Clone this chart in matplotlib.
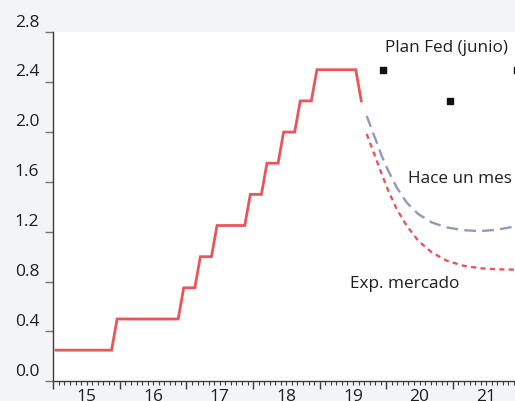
import matplotlib
matplotlib.use("Agg")
import matplotlib.pyplot as plt
import matplotlib.transforms as mtrans
import numpy as np

plt.rcParams['font.family'] = ['Open Sans', 'DejaVu Sans']

# tipo de la Fed, medias mensuales desde ene-2015 (puntos a mitad de mes)
fed_start = 2015
fed_rate = [0.25] * 11 + [0.5] * 12 + [0.75] * 3 + [1.0] * 3 + [1.25] * 6 \
    + [1.5] * 3 + [1.75] * 3 + [2.0] * 3 + [2.25] * 3 + [2.5] * 8 + [2.25]

# dots de la Fed (junio)
plan_x = [2019.958, 2020.958, 2021.958]
plan_y = [2.5, 2.25, 2.5]

# expectativas de mercado hace un mes
prev_x = [2019.706, 2019.781, 2019.856, 2019.931, 2020.030, 2020.156, 2020.306,
          2020.480, 2020.682, 2020.907, 2021.156, 2021.406, 2021.658, 2021.907, 2021.95]
prev_y = [2.130, 2.023, 1.917, 1.809, 1.689, 1.556, 1.435,
          1.342, 1.275, 1.235, 1.213, 1.205, 1.216, 1.240, 1.246]

# expectativas de mercado actuales
mkt_x = [2019.706, 2019.781, 2019.856, 2019.931, 2020.030, 2020.156, 2020.306,
         2020.480, 2020.682, 2020.907, 2021.156, 2021.406, 2021.658, 2021.907, 2021.95]
mkt_y = [1.985, 1.878, 1.771, 1.664, 1.530, 1.383, 1.249,
         1.128, 1.035, 0.968, 0.928, 0.907, 0.899, 0.896, 0.896]

years = list(range(2015, 2022))
year_labels = ['15', '16', '17', '18', '19', '20', '21']

red = '#e8555a'
blue = '#8e9bbd'
ink = '#1e1e1e'
axis_col = '#3c3c3c'

fig = plt.figure(figsize=(5.15, 4.02), dpi=100, facecolor='#f3f4f6')
ax = fig.add_axes([0.1035, 0.049, 0.8965, 0.868])
ax.set_facecolor('white')

fed_x = fed_start + (np.arange(len(fed_rate)) + 0.5) / 12
ax.plot(fed_x, fed_rate, color=red, lw=2.0, solid_joinstyle='miter')
ax.plot(prev_x, prev_y, color=blue, lw=1.7, dashes=(5, 2.6))
ax.plot(mkt_x, mkt_y, color=red, lw=1.7, dashes=(2.2, 1.8))
ax.scatter(plan_x, plan_y, marker='s', s=16, color='#111111', zorder=3)

ax.text(2020.90, 2.68, 'Plan Fed (junio)', fontsize=12.3, color=ink,
        ha='center', va='center', weight='medium')
ax.text(2020.33, 1.63, 'Hace un mes', fontsize=12.3, color=ink,
        ha='left', va='center', weight='medium')
ax.text(2019.45, 0.79, 'Exp. mercado', fontsize=12.3, color=ink,
        ha='left', va='center', weight='medium')

ax.set_xlim(2015, 2021.933)
ax.set_ylim(0, 2.8)

for s in ['top', 'right']:
    ax.spines[s].set_visible(False)
for s in ['left', 'bottom']:
    ax.spines[s].set_color(axis_col)
    ax.spines[s].set_linewidth(1.0)

yt = np.arange(0, 2.81, 0.4)
ax.set_yticks(yt)
ax.set_yticklabels([f'{v:.1f}' for v in yt], fontsize=12.5, color=ink,
                   va='bottom', weight='medium')
ax.tick_params(axis='y', length=6, width=1, color='#777777', pad=4)

ax.set_xticks(years)
ax.set_xticklabels([])
ax.set_xticks(np.arange(2015, 2022, 1 / 12), minor=True)
ax.tick_params(axis='x', which='major', length=6, width=1, color=axis_col)
ax.tick_params(axis='x', which='minor', length=3, width=0.8, color=axis_col)

sec = ax.secondary_xaxis('bottom')
sec.set_xticks([y + 0.5 for y in years])
sec.set_xticklabels(year_labels, fontsize=12.5, color=ink, weight='medium')
sec.tick_params(length=0, pad=5)
sec.spines['bottom'].set_visible(False)

# etiquetas del eje y un poco por encima de su marca
off = mtrans.ScaledTranslation(0, 2 / 72, fig.dpi_scale_trans)
for lab in ax.get_yticklabels():
    lab.set_transform(lab.get_transform() + off)

fig.savefig('out.png', dpi=100, facecolor=fig.get_facecolor())
